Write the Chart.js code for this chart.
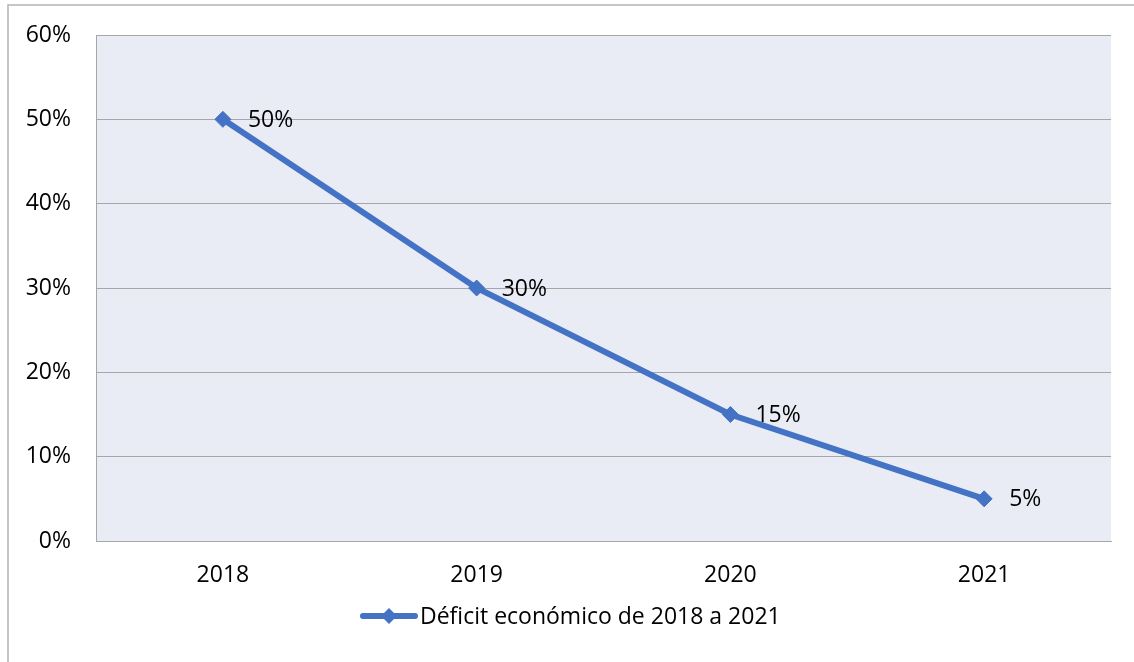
<!DOCTYPE html>
<html>
<head>
<meta charset="utf-8">
<script src="https://cdn.jsdelivr.net/npm/chart.js@4/dist/chart.umd.min.js"></script>
<style>
  html, body { margin: 0; padding: 0; background: #fff; }
  #wrap { width: 1134px; height: 662px; position: relative; }
</style>
</head>
<body>
<div id="wrap"><canvas id="grafica"></canvas></div>
<script>
// Datos de la gráfica
const anios = ["2018", "2019", "2020", "2021"];
const deficit = [50, 30, 15, 5];
const etiquetaSerie = "Déficit económico de 2018 a 2021";
const ticksY = [0, 10, 20, 30, 40, 50, 60];

const azul = "#4472C4";
const fuente = "'Open Sans', sans-serif";
const tamFuente = 23;

// Fondo del área de trazado y borde exterior
const fondoPlugin = {
  id: "fondo",
  beforeDraw(chart) {
    const { ctx, chartArea: a } = chart;
    ctx.save();
    ctx.fillStyle = "#E9EBF5";
    ctx.fillRect(a.left, a.top, a.right - a.left, a.bottom - a.top);
    ctx.strokeStyle = "#B4B4B4";
    ctx.lineWidth = 1.5;
    ctx.beginPath();
    ctx.moveTo(8, chart.height);
    ctx.lineTo(8, 5);
    ctx.lineTo(chart.width, 5);
    ctx.stroke();
    ctx.restore();
  },
};

// Etiquetas de datos a la derecha de cada punto
const etiquetasPlugin = {
  id: "etiquetas",
  afterDatasetsDraw(chart) {
    const { ctx } = chart;
    const meta = chart.getDatasetMeta(0);
    ctx.save();
    ctx.font = tamFuente + "px " + fuente;
    ctx.fillStyle = "#000";
    ctx.textAlign = "left";
    ctx.textBaseline = "middle";
    meta.data.forEach((pt, i) => {
      ctx.fillText(chart.data.datasets[0].data[i] + "%", pt.x + 25, pt.y + 1);
    });
    ctx.restore();
  },
};

// Leyenda con línea y rombo
const leyendaPlugin = {
  id: "leyenda",
  afterDraw(chart) {
    const { ctx } = chart;
    const y = 616;
    ctx.save();
    ctx.strokeStyle = azul;
    ctx.lineWidth = 6;
    ctx.lineCap = "round";
    ctx.beginPath();
    ctx.moveTo(363, y);
    ctx.lineTo(415, y);
    ctx.stroke();
    ctx.fillStyle = azul;
    ctx.beginPath();
    ctx.moveTo(389 - 8, y);
    ctx.lineTo(389, y - 8);
    ctx.lineTo(389 + 8, y);
    ctx.lineTo(389, y + 8);
    ctx.closePath();
    ctx.fill();
    ctx.font = tamFuente + "px " + fuente;
    ctx.fillStyle = "#000";
    ctx.textAlign = "left";
    ctx.textBaseline = "middle";
    ctx.fillText(etiquetaSerie, 420, y + 1);
    ctx.restore();
  },
};

new Chart(document.getElementById("grafica").getContext("2d"), {
  type: "line",
  data: {
    labels: anios,
    datasets: [
      {
        label: etiquetaSerie,
        data: deficit,
        borderColor: azul,
        backgroundColor: azul,
        borderWidth: 6,
        pointStyle: "rectRot",
        pointRadius: 8,
        pointBorderWidth: 1,
        pointBackgroundColor: azul,
        pointBorderColor: azul,
        tension: 0,
      },
    ],
  },
  options: {
    responsive: true,
    maintainAspectRatio: false,
    animation: false,
    layout: { padding: { left: 0, right: 23, top: 35, bottom: 0 } },
    plugins: {
      legend: { display: false },
      tooltip: { enabled: false },
    },
    scales: {
      x: {
        offset: true,
        grid: { display: false, drawTicks: false },
        border: { display: true, color: "#A6A6A6", width: 1 },
        ticks: { color: "#000", font: { family: fuente, size: tamFuente }, padding: 21 },
        afterFit(scale) {
          scale.height = 121;
          scale.paddingLeft = 0;
          scale.paddingRight = 0;
        },
      },
      y: {
        min: 0,
        max: 60,
        afterBuildTicks(scale) { scale.ticks = ticksY.map((v) => ({ value: v })); },
        grid: { color: "#A6A6A6", drawTicks: false },
        border: { display: true, color: "#A6A6A6", width: 1 },
        ticks: {
          color: "#000",
          font: { family: fuente, size: tamFuente },
          padding: 25,
          callback: (v) => v + "%",
        },
        afterFit(scale) {
          scale.width = 96;
          scale.paddingTop = 0;
          scale.paddingBottom = 0;
        },
      },
    },
  },
  plugins: [fondoPlugin, etiquetasPlugin, leyendaPlugin],
});
</script>
</body>
</html>
